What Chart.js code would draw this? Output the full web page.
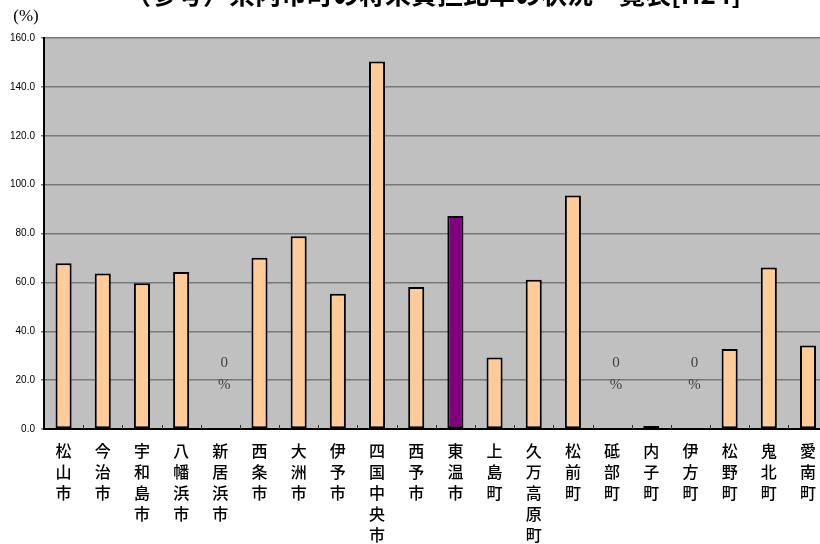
<!DOCTYPE html>
<html lang="ja">
<head>
<meta charset="utf-8">
<title>県内市町の将来負担比率の状況一覧表[H24]</title>
<script src="https://cdn.jsdelivr.net/npm/chart.js@4/dist/chart.umd.min.js"></script>
<style>
  html, body { margin: 0; padding: 0; background: #ffffff; overflow: hidden; }
  #wrap { position: relative; width: 820px; height: 544px; overflow: hidden; }
  #c { position: absolute; left: 0; top: 0; }
</style>
</head>
<body>
<div id="wrap"><canvas id="c" width="828" height="544"></canvas></div>
<script>
// 市町名
const municipalities = [
  '松山市', '今治市', '宇和島市', '八幡浜市', '新居浜市', '西条市', '大洲市',
  '伊予市', '四国中央市', '西予市', '東温市', '上島町', '久万高原町', '松前町',
  '砥部町', '内子町', '伊方町', '松野町', '鬼北町', '愛南町'
];

// 将来負担比率（%）— 比率が算定されない市町は null
const burdenRatio = [
  67.8, 63.6, 59.6, 64.2, null, 70.1, 78.9,
  55.3, 150.4, 58.1, 87.2, 29.3, 61.1, 95.5,
  null, 1.2, null, 32.7, 66.1, 34.2
];

// 強調する市町
const highlighted = ['東温市'];

// 縦軸目盛
const yTickValues = [0, 20, 40, 60, 80, 100, 120, 140, 160];

const titleText = '（参考）県内市町の将来負担比率の状況一覧表[H24]';
const unitText = '(%)';
const noRatioText = ['0', '%'];

const PEACH = '#FFCC99';
const PURPLE = '#800080';
const PLOT_BG = '#C0C0C0';

// 描画領域の背景
const plotBackground = {
  id: 'plotBackground',
  beforeDraw(chart) {
    const { ctx, chartArea: a } = chart;
    ctx.save();
    ctx.fillStyle = PLOT_BG;
    ctx.fillRect(a.left, a.top, a.right - a.left, a.bottom - a.top);
    ctx.restore();
  }
};

// 横軸の区切り目盛（内向き）
const innerCategoryTicks = {
  id: 'innerCategoryTicks',
  afterDatasetsDraw(chart) {
    const { ctx, chartArea: a, scales: { x } } = chart;
    const n = chart.data.labels.length;
    const w = (x.getPixelForValue(1) - x.getPixelForValue(0));
    ctx.save();
    ctx.strokeStyle = '#333333';
    ctx.lineWidth = 1;
    ctx.beginPath();
    for (let i = 1; i < n; i++) {
      const px = Math.round(x.getPixelForValue(i) - w / 2) + 0.5;
      ctx.moveTo(px, a.bottom);
      ctx.lineTo(px, a.bottom - 4);
    }
    ctx.stroke();
    ctx.restore();
  }
};

// 比率なしの市町への注記
const noRatioLabels = {
  id: 'noRatioLabels',
  afterDatasetsDraw(chart) {
    const { ctx, scales: { x, y } } = chart;
    const values = chart.data.datasets[0].data;
    ctx.save();
    ctx.fillStyle = '#404040';
    ctx.font = '15px "Liberation Serif", "DejaVu Serif", serif';
    ctx.textAlign = 'center';
    ctx.textBaseline = 'middle';
    values.forEach((v, i) => {
      if (v !== null) return;
      const cx = x.getPixelForValue(i) + 4;
      const cy = y.getPixelForValue(27);
      ctx.fillText(noRatioText[0], cx, cy);
      ctx.fillText(noRatioText[1], cx, cy + 22);
    });
    ctx.restore();
  }
};

// 表題と単位
const headerText = {
  id: 'headerText',
  afterDraw(chart) {
    const { ctx } = chart;
    ctx.save();
    ctx.fillStyle = '#000000';
    ctx.textAlign = 'center';
    ctx.textBaseline = 'alphabetic';
    ctx.font = 'bold 26px "Noto Sans CJK JP", sans-serif';
    ctx.fillText(titleText, 433, 4);
    ctx.font = '17px "Liberation Serif", "DejaVu Serif", serif';
    ctx.textBaseline = 'middle';
    ctx.fillText(unitText, 26, 17);
    ctx.restore();
  }
};

new Chart(document.getElementById('c'), {
  type: 'bar',
  data: {
    labels: municipalities,
    datasets: [{
      data: burdenRatio,
      backgroundColor: municipalities.map(m => highlighted.includes(m) ? PURPLE : PEACH),
      borderColor: '#000000',
      borderWidth: 2,
      borderSkipped: false,
      categoryPercentage: 1.0,
      barPercentage: 0.41
    }]
  },
  options: {
    responsive: false,
    animation: false,
    events: [],
    layout: { padding: { top: 38, left: 0, right: 0, bottom: 0 } },
    plugins: {
      legend: { display: false },
      tooltip: { enabled: false },
      title: { display: false }
    },
    scales: {
      x: {
        offset: true,
        grid: { display: false, drawTicks: false },
        border: { display: true, color: '#000000', width: 2 },
        ticks: {
          autoSkip: false,
          maxRotation: 0,
          minRotation: 0,
          padding: 12,
          color: '#000000',
          font: { family: '"Noto Sans CJK JP", sans-serif', size: 16, weight: '500', lineHeight: '20.8px' },
          callback: (v, i) => municipalities[i].split('')
        },
        afterFit: s => { s.height = 115; }
      },
      y: {
        min: 0,
        max: 160,
        afterBuildTicks: s => { s.ticks = yTickValues.map(v => ({ value: v })); },
        grid: { color: '#787878', lineWidth: 1.5, tickLength: 3, drawTicks: true },
        border: { display: true, color: '#000000', width: 2 },
        ticks: {
          padding: 6,
          color: '#000000',
          font: { family: '"Liberation Sans", Arial, sans-serif', size: 10 },
          callback: v => Number(v).toFixed(1)
        },
        afterFit: s => { s.width = 44; }
      }
    }
  },
  plugins: [plotBackground, innerCategoryTicks, noRatioLabels, headerText]
});
</script>
</body>
</html>
